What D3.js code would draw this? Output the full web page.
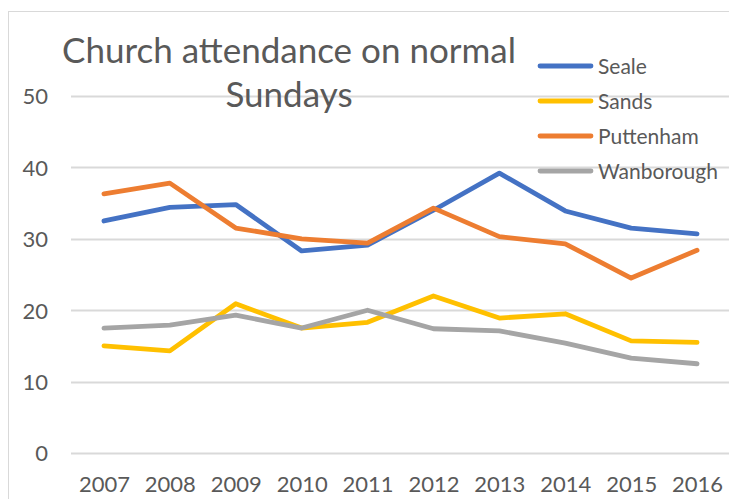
<!DOCTYPE html>
<html>
<head>
<meta charset="utf-8">
<script src="https://cdn.jsdelivr.net/npm/d3@7"></script>
<style>
body { margin: 0; background: #fff; }
svg { display: block; font-family: Lato, "Open Sans", sans-serif; }
</style>
</head>
<body>
<script>
"use strict";
const years = ["2007", "2008", "2009", "2010", "2011", "2012", "2013", "2014", "2015", "2016"];
const seale = [32.5, 34.4, 34.8, 28.3, 29.1, 34.0, 39.2, 33.9, 31.5, 30.7];
const sands = [15.0, 14.3, 20.9, 17.5, 18.3, 22.0, 18.9, 19.5, 15.7, 15.5];
const puttenham = [36.3, 37.8, 31.5, 30.0, 29.4, 34.3, 30.3, 29.3, 24.5, 28.4];
const wanborough = [17.5, 17.9, 19.3, 17.5, 20.0, 17.4, 17.1, 15.4, 13.3, 12.5];
const seriesNames = ["Seale", "Sands", "Puttenham", "Wanborough"];
const yTicks = [0, 10, 20, 30, 40, 50];
const titleLines = ["Church attendance on normal", "Sundays"];

const colors = ["#4472C4", "#FFC000", "#ED7D31", "#A5A5A5"];
const series = [seale, sands, puttenham, wanborough].map((vals, i) => ({name: seriesNames[i], values: vals, color: colors[i]}));

const size = {"width": 729, "height": 499};
const plot = {"left": 71, "right": 730, "top": 96, "bottom": 453};
const textColor = "#595959";

const svg = d3.select("body").append("svg").attr("width", size.width).attr("height", size.height);

// chart frame
svg.append("rect").attr("x", 8.5).attr("y", 11.5).attr("width", 740).attr("height", 520)
	.attr("fill", "none").attr("stroke", "#d9d9d9").attr("stroke-width", 1);

const x = d3.scalePoint().domain(years).range([plot.left, plot.right]).padding(0.5);
const y = d3.scaleLinear().domain([0, 50]).range([plot.bottom, plot.top]);

// gridlines
svg.append("g").selectAll("line").data(yTicks).enter().append("line")
	.attr("x1", plot.left).attr("x2", plot.right)
	.attr("y1", d => Math.round(y(d)) + 0.5).attr("y2", d => Math.round(y(d)) + 0.5)
	.attr("stroke", "#d9d9d9").attr("stroke-width", 2);

// y axis labels
const yAxis = d3.axisLeft(y).tickValues(yTicks).tickSize(0).tickPadding(0);
const gy = svg.append("g").attr("transform", "translate(48,0)").call(yAxis);
gy.select(".domain").remove();
gy.selectAll("text").attr("fill", textColor).style("font-size", "22px").style("font-family", "Lato").attr("dy", "0.36em");

// x axis labels
const xAxis = d3.axisBottom(x).tickSize(0).tickPadding(0);
const gx = svg.append("g").attr("transform", "translate(0,476)").call(xAxis);
gx.select(".domain").remove();
gx.selectAll("text").attr("fill", textColor).style("font-size", "22px").style("font-family", "Lato").attr("dy", "0.72em");

// lines
const line = d3.line().x((d, i) => x(years[i])).y(d => y(d));
svg.append("g").selectAll("path").data(series).enter().append("path")
	.attr("d", d => line(d.values))
	.attr("fill", "none").attr("stroke", d => d.color).attr("stroke-width", 4.8)
	.attr("stroke-linejoin", "round").attr("stroke-linecap", "round");

// title
svg.append("g").selectAll("text").data(titleLines).enter().append("text")
	.attr("x", 289).attr("y", (d, i) => 63 + i * 44)
	.attr("text-anchor", "middle").attr("fill", textColor)
	.style("font-size", "35px").text(d => d);

// legend
const legend = svg.append("g").selectAll("g").data(series).enter().append("g")
	.attr("transform", (d, i) => "translate(538," + (66 + i * 35) + ")");
legend.append("line").attr("x1", 2).attr("x2", 53).attr("y1", 0).attr("y2", 0)
	.attr("stroke", d => d.color).attr("stroke-width", 4.8).attr("stroke-linecap", "round");
legend.append("text").attr("x", 60).attr("y", 0).attr("dy", "0.36em")
	.attr("fill", textColor).style("font-size", "21px").text(d => d.name);
</script>
</body>
</html>
